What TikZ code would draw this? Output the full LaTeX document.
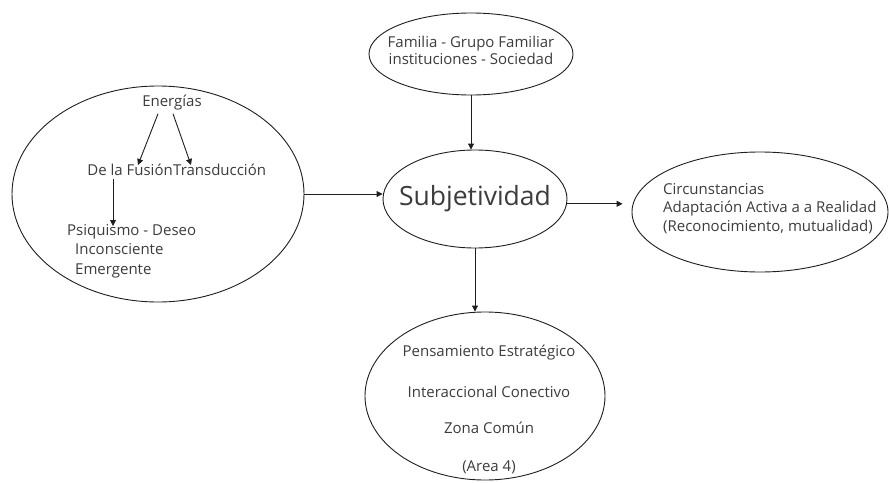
\documentclass[tikz,border=0pt]{standalone}
\usepackage{fontspec}
\setmainfont{Open Sans}
\usetikzlibrary{shapes.geometric,arrows.meta}
\definecolor{txt}{HTML}{3C3C3C}
\definecolor{ln}{HTML}{1E1E1E}
\tikzset{
  oval/.style={draw=ln,line width=0.9pt,ellipse,inner sep=0pt},
  lbl/.style={text=txt,inner sep=1pt,font=\fontsize{15}{18}\selectfont},
  arr/.style={draw=ln,line width=0.9pt,-{Triangle[length=6pt,width=6pt]}}
}
\begin{document}
\begin{tikzpicture}[x=1pt,y=-1pt]
\useasboundingbox (0,0) rectangle (889,482);
% ellipses
\node[oval,minimum width=292pt,minimum height=216pt] (L) at (158,194) {};
\node[oval,minimum width=204pt,minimum height=82pt] (T) at (471,54) {};
\node[oval,minimum width=184pt,minimum height=98pt] (S) at (475,199) {};
\node[oval,minimum width=256pt,minimum height=120pt] (R) at (760,212) {};
\node[oval,minimum width=240pt,minimum height=168pt] (B) at (485,396) {};
% texts
\node[text=txt,inner sep=0pt,font=\fontsize{26.5}{30}\selectfont] (St) at (S.center) {Subjetividad};
\node[lbl] (E) at (172,103) {Energías};
\node[lbl,anchor=east,inner sep=0pt] (F) at (173,170) {De la Fusión};
\node[lbl,anchor=west,inner sep=0pt] (Tr) at (173,170) {Transducción};
\node[lbl,align=left,anchor=north west,font=\fontsize{15}{19.5}\selectfont] (P) at (66,223) {Psiquismo - Deseo\\\hspace*{8pt}Inconsciente\\\hspace*{8pt}Emergente};
\node[lbl,align=center,font=\fontsize{15}{17}\selectfont] (Tt) at (471,50.5) {Familia - Grupo Familiar\\instituciones - Sociedad};
\node[lbl,align=left,anchor=west,font=\fontsize{15}{18.5}\selectfont] (Rt) at (662,208.5) {Circunstancias\\Adaptación Activa a a Realidad\\(Reconocimiento, mutualidad)};
\node[lbl] (B1) at (489,353) {Pensamiento Estratégico};
\node[lbl] (B2) at (489,392) {Interaccional Conectivo};
\node[lbl] (B3) at (489,428) {Zona Común};
\node[lbl] (B4) at (489,467) {(Area 4)};
% connectors
\draw[arr] ([xshift=-14pt,yshift=-2pt]E.south) -- ([xshift=-35pt,yshift=-1pt]F.north east);
\draw[arr] ([xshift=1pt,yshift=-2pt]E.south) -- ([xshift=18pt,yshift=-1pt]Tr.north west);
\draw[arr] ([xshift=-60pt,yshift=-3pt]F.south east) -- ([xshift=-60pt,yshift=-3pt]F.south east |- P.north);
\draw[arr] (L.east) -- (L.east -| S.west);
\draw[arr] (T.south) -- (T.south |- S.north);
\draw[arr,shorten >=9pt] (S.-3) -- (S.-3 -| R.west);
\draw[arr] (S.south) -- (S.south |- B.north);
\end{tikzpicture}
\end{document}
